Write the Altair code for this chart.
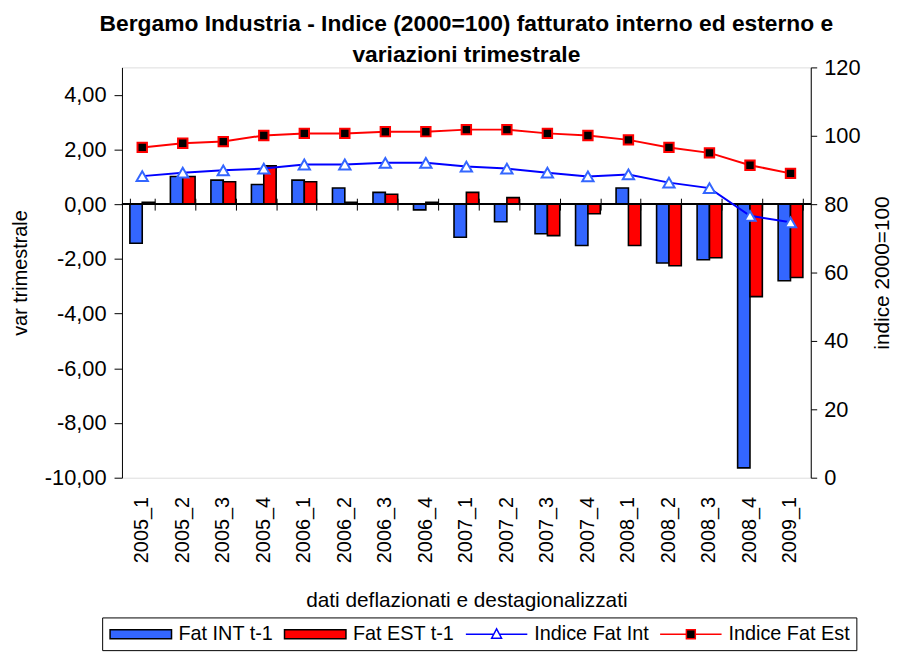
import altair as alt
import pandas as pd

cats = ["2005_1", "2005_2", "2005_3", "2005_4", "2006_1", "2006_2", "2006_3", "2006_4",
        "2007_1", "2007_2", "2007_3", "2007_4", "2008_1", "2008_2", "2008_3", "2008_4", "2009_1"]
fat_int = [-1.43, 1.01, 0.88, 0.72, 0.88, 0.59, 0.43, -0.21, -1.21, -0.64, -1.08, -1.51,
           0.59, -2.15, -2.03, -9.64, -2.80]
fat_est = [0.07, 1.01, 0.82, 1.40, 0.82, 0.07, 0.36, 0.07, 0.43, 0.24, -1.15, -0.35,
           -1.51, -2.25, -1.96, -3.38, -2.68]
ind_int = [88.2, 89.2, 89.9, 90.4, 91.6, 91.6, 92.1, 92.1, 91.0, 90.4, 89.2, 88.1,
           88.7, 86.3, 84.7, 76.6, 74.7]
ind_est = [96.6, 97.8, 98.3, 100.1, 100.7, 100.7, 101.2, 101.2, 101.8, 101.8, 100.7, 100.1,
           98.8, 96.6, 95.0, 91.4, 89.0]

series_names = ["Fat INT t-1", "Fat EST t-1", "Indice Fat Int", "Indice Fat Est"]
left_ticks = [-10, -8, -6, -4, -2, 0, 2, 4]
right_ticks = [0, 20, 40, 60, 80, 100, 120]

bars_df = pd.DataFrame({
    "cat": cats * 2,
    "serie": [series_names[0]] * len(cats) + [series_names[1]] * len(cats),
    "val": fat_int + fat_est,
})
lines_df = pd.DataFrame({
    "cat": cats * 2,
    "serie": [series_names[2]] * len(cats) + [series_names[3]] * len(cats),
    "val": ind_int + ind_est,
})
cat_df = pd.DataFrame({"cat": cats})

FONT = "Liberation Sans"
BLUE_BAR = "#3366FF"
RED = "#FF0000"
BLUE_LINE = "#0000FF"

xscale = alt.Scale(domain=cats, paddingInner=0.39, paddingOuter=0.195)
fill_scale = alt.Scale(domain=series_names, range=[BLUE_BAR, RED, "#FFFFFF", "#000000"])
stroke_scale = alt.Scale(domain=series_names, range=["#000000", "#000000", BLUE_LINE, RED])
bar_path = "M-3.1,-0.45H3.1V0.45H-3.1Z"
int_path = "M-3.1,0H-0.25M0.25,0H3.1M0,-0.55L0.5,0.4L-0.5,0.4Z"
est_path = "M-3.1,0H-0.45M0.45,0H3.1M-0.45,-0.45H0.45V0.45H-0.45Z"
shape_scale = alt.Scale(domain=series_names, range=[bar_path, bar_path, int_path, est_path])

yleft = alt.Scale(domain=[-10, 5], nice=False)
yright = alt.Scale(domain=[0, 120], nice=False)

num_expr = "(datum.value < 0 ? '-' : '') + replace(format(abs(datum.value), '.2f'), '.', ',')"

leg = alt.Legend(orient="none", legendX=-20, legendY=555, direction="horizontal",
                 title=None, symbolSize=400, symbolOffset=22, labelOffset=27,
                 columnPadding=8, labelFont=FONT, labelFontSize=20, labelColor="black",
                 symbolStrokeWidth=1.5, strokeColor="black", fillColor="white",
                 padding=6)

legend_layer = alt.Chart(lines_df).transform_filter("false").mark_point(
    strokeWidth=1.5, opacity=1).encode(
    fill=alt.Fill("serie:N", scale=fill_scale, legend=leg),
    stroke=alt.Stroke("serie:N", scale=stroke_scale, legend=leg),
    shape=alt.Shape("serie:N", scale=shape_scale, legend=leg),
)

bars = alt.Chart(bars_df).mark_bar(stroke="black", strokeWidth=1.6).encode(
    x=alt.X("cat:N", scale=xscale, sort=cats,
            axis=alt.Axis(orient="bottom", title="dati deflazionati e destagionalizzati",
                          labelAngle=-90, domain=False, ticks=False, labelPadding=19,
                          labelFontSize=20, titleFontSize=21, titlePadding=27,
                          labelFont=FONT, titleFont=FONT, titleFontWeight="normal",
                          labelColor="black", titleColor="black")),
    xOffset=alt.XOffset("serie:N", scale=alt.Scale(domain=series_names[:2])),
    y=alt.Y("val:Q", scale=yleft,
            axis=alt.Axis(values=left_ticks, labelExpr=num_expr, title="var trimestrale",
                          grid=False, tickSize=8, labelPadding=8, labelFontSize=22,
                          titleFontSize=20, titlePadding=14, labelFont=FONT, titleFont=FONT,
                          titleFontWeight="normal", domainColor="black", tickColor="black",
                          labelColor="black", titleColor="black")),
    fill=alt.Fill("serie:N", scale=fill_scale, legend=None),
)

zero_rule = alt.Chart(cat_df).mark_rule(color="black", strokeWidth=1).encode(
    y=alt.Y(datum=0, scale=yleft),
)

tick_axis = alt.Chart(cat_df).mark_point(opacity=0).encode(
    x=alt.X("cat:N", scale=xscale, sort=cats,
            axis=alt.Axis(orient="top", labels=False, domain=False, ticks=True, tickSize=12,
                          tickBand="extent", offset=-144, title=None, tickColor="black")),
)

left = alt.layer(legend_layer, bars, zero_rule, tick_axis)

line = alt.Chart(lines_df).mark_line(strokeWidth=2).encode(
    x=alt.X("cat:N", scale=xscale, sort=cats, axis=None),
    y=alt.Y("val:Q", scale=yright,
            axis=alt.Axis(orient="right", values=right_ticks, title="indice 2000=100",
                          grid=False, tickSize=6, labelPadding=7, labelFontSize=22,
                          titleFontSize=21, titlePadding=33, titleAngle=270,
                          labelFont=FONT, titleFont=FONT, titleFontWeight="normal",
                          domainColor="black", tickColor="black", labelColor="black",
                          titleColor="black")),
    stroke=alt.Stroke("serie:N", scale=stroke_scale, legend=None),
)

pts_int = alt.Chart(lines_df).transform_filter(
    alt.datum.serie == series_names[2]
).mark_point(shape="triangle-up", filled=True, fill="white", stroke=BLUE_BAR,
             strokeWidth=2, size=130, opacity=1).encode(
    x=alt.X("cat:N", scale=xscale, sort=cats, axis=None),
    y=alt.Y("val:Q", scale=yright),
)

pts_est = alt.Chart(lines_df).transform_filter(
    alt.datum.serie == series_names[3]
).mark_point(shape="square", filled=True, fill="black", stroke=RED,
             strokeWidth=2, size=90, opacity=1).encode(
    x=alt.X("cat:N", scale=xscale, sort=cats, axis=None),
    y=alt.Y("val:Q", scale=yright),
)

right = alt.layer(line, pts_int, pts_est)

chart = alt.layer(left, right).resolve_scale(y="independent").properties(
    width=695, height=414,
    title=alt.Title(["Bergamo Industria - Indice (2000=100) fatturato interno ed esterno e",
                     "variazioni trimestrale"],
                    font=FONT, fontSize=23, fontWeight="bold", lineHeight=32, offset=-11,
                    color="black"),
    autosize=alt.AutoSizeParams(type="none"),
    padding={"left": 115, "top": 57, "right": 85, "bottom": 179},
).configure_view(stroke=None).configure(background="white")

chart.save("out.html", embed_options={"renderer": "svg", "actions": False})
